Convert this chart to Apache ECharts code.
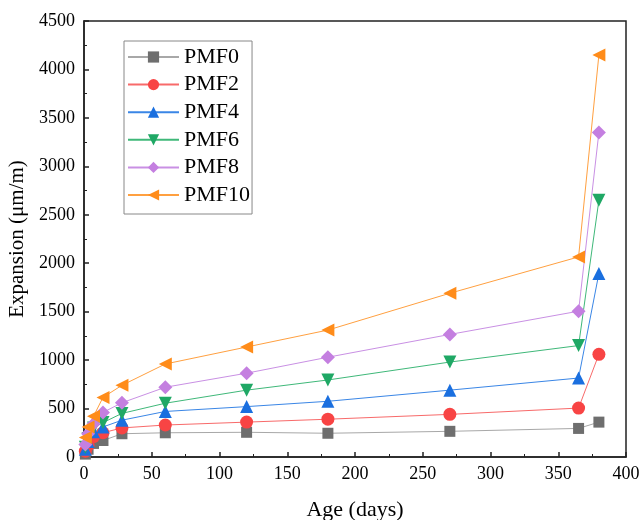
<!DOCTYPE html>
<html>
<head>
<meta charset="utf-8">
<script src="https://cdn.jsdelivr.net/npm/echarts@6/dist/echarts.min.js"></script>
<style>html,body{margin:0;padding:0;background:#fff;}#c{width:639px;height:520px;}</style>
</head>
<body>
<div id="c"></div>
<script>
const ages = [1, 3, 7, 14, 28, 60, 120, 180, 270, 365, 380];
const PMF0  = [30, 80, 140, 170, 240, 250, 255, 245, 265, 295, 360];
const PMF2  = [60, 120, 210, 250, 300, 330, 360, 390, 440, 505, 1060];
const PMF4  = [80, 160, 260, 310, 380, 470, 520, 575, 690, 815, 1895];
const PMF6  = [100, 190, 300, 355, 450, 555, 690, 795, 980, 1150, 2650];
const PMF8  = [130, 240, 340, 460, 560, 720, 865, 1030, 1265, 1505, 3350];
const PMF10 = [200, 310, 420, 615, 740, 960, 1135, 1310, 1690, 2065, 4150];
const seriesNames = ['PMF0', 'PMF2', 'PMF4', 'PMF6', 'PMF8', 'PMF10'];
const seriesData = [PMF0, PMF2, PMF4, PMF6, PMF8, PMF10];
const markerColors = ['#6e6e6e', '#f84444', '#1a6fdf', '#1fa865', '#c47fe0', '#ff8c1a'];
const lineColors = ['#a8a8a8', '#f86a6a', '#3a86e6', '#3fb879', '#c990e4', '#ffa040'];
const symbols = ['rect', 'circle', 'triangle', 'path://M0,0L10,0L5,10Z', 'diamond', 'path://M0,5L10,0L10,10Z'];
const symbolSizes = [11, 13, 13, 13, 14, 13];

const font = 'Liberation Serif';
const chart = echarts.init(document.getElementById('c'));
chart.setOption({
  animation: false,
  backgroundColor: '#fff',
  textStyle: { fontFamily: font },
  grid: { left: 84, right: 13, top: 21, bottom: 63, outerBoundsMode: 'none', containLabel: false, show: true, borderColor: '#222', borderWidth: 1.5, backgroundColor: 'transparent' },
  legend: {
    left: 124, top: 41, orient: 'vertical',
    itemWidth: 51, itemHeight: 14, itemGap: 5.6,
    padding: [5, 2, 8, 3],
    borderColor: '#888', borderWidth: 1,
    textStyle: { fontFamily: font, fontSize: 22, color: '#000' },
    data: seriesNames
  },
  xAxis: {
    type: 'value', min: 0, max: 400, interval: 50,
    name: 'Age (days)', nameLocation: 'middle', nameGap: 42,
    nameTextStyle: { fontFamily: font, fontSize: 22, color: '#000' },
    axisLine: { lineStyle: { color: '#222', width: 1.5 } },
    axisTick: { inside: true, length: 5, lineStyle: { color: '#222', width: 1.5 } },
    minorTick: { show: true, splitNumber: 2, length: 3, lineStyle: { color: '#222', width: 1 } },
    axisLabel: { fontFamily: font, fontSize: 18, color: '#000', margin: 8, formatter: v => String(v) },
    splitLine: { show: false }
  },
  yAxis: {
    type: 'value', min: 0, max: 4500, interval: 500,
    name: 'Expansion (μm/m)', nameLocation: 'middle', nameGap: 50,
    nameTextStyle: { fontFamily: font, fontSize: 21, color: '#000' },
    axisLine: { lineStyle: { color: '#222', width: 1.5 } },
    axisTick: { inside: true, length: 5, lineStyle: { color: '#222', width: 1.5 } },
    minorTick: { show: true, splitNumber: 2, length: 3, lineStyle: { color: '#222', width: 1 } },
    axisLabel: { fontFamily: font, fontSize: 18, color: '#000', margin: 9, formatter: v => String(v) },
    splitLine: { show: false }
  },
  series: seriesNames.map((n, i) => ({
    name: n, type: 'line',
    data: ages.map((a, j) => [a, seriesData[i][j]]),
    symbol: symbols[i], symbolSize: symbolSizes[i],
    showAllSymbol: true,
    itemStyle: { color: markerColors[i] },
    lineStyle: { color: lineColors[i], width: 1 },
    emphasis: { disabled: true }
  }))
});
</script>
</body>
</html>
